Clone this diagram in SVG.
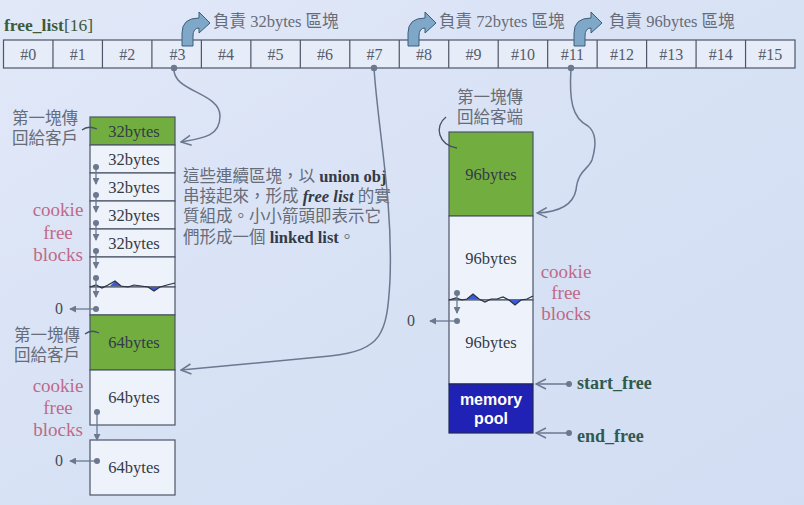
<svg xmlns="http://www.w3.org/2000/svg" width="804" height="505" viewBox="0 0 804 505">
<defs>
<linearGradient id="bg" x1="0" y1="0" x2="1" y2="1">
<stop offset="0" stop-color="#e1e8f8"/>
<stop offset="0.5" stop-color="#d8e2f5"/>
<stop offset="1" stop-color="#d2ddf3"/>
</linearGradient>
<marker id="open" viewBox="0 0 12 12" refX="11" refY="6" markerWidth="12" markerHeight="12" markerUnits="userSpaceOnUse" orient="auto">
<path d="M1,1 L11,6 L1,11" fill="none" stroke="#6b7890" stroke-width="1.5"/>
</marker>
<marker id="tri" viewBox="0 0 8 8" refX="7" refY="4" markerWidth="7" markerHeight="7" markerUnits="userSpaceOnUse" orient="auto">
<path d="M0,0 L8,4 L0,8 Z" fill="#6b7890"/>
</marker>
<path id="turn" d="M0,24 L0,11 Q0,-4 17,-4 L17,-10 L28,1 L17,11 L17,6 Q11,6 11,14 L11,24 Z"/>
</defs>
<style>
.t{font-family:"Liberation Serif","Noto Sans CJK TC",serif;}
.cell{fill:#e6edf9;stroke:#4d5566;stroke-width:1.2;}
.idx{font-family:"Liberation Serif",serif;font-size:16px;fill:#555b6b;text-anchor:middle;}
.blk{fill:#eef2fa;stroke:#4d5566;stroke-width:1.2;}
.grn{fill:#72ad40;stroke:#4d5566;stroke-width:1.2;}
.bt{font-family:"Liberation Serif",serif;font-size:16.5px;fill:#333a48;text-anchor:middle;}
.gray{font-family:"Liberation Serif","Noto Sans CJK TC",sans-serif;font-size:16.5px;fill:#666c78;}
.pink{font-family:"Liberation Serif",serif;font-size:19px;fill:#bf6a88;text-anchor:middle;}
.ptr{font-family:"Liberation Serif",serif;font-size:18px;font-weight:bold;fill:#2f5a50;}
.zero{font-family:"Liberation Serif",serif;font-size:16px;fill:#444a58;}
.con{fill:none;stroke:#6b7890;stroke-width:1.5;}
.sm{fill:none;stroke:#6b7890;stroke-width:1.3;}
.dot{fill:#6b7890;}
.icon{fill:#7fa8c8;stroke:#3e5d7a;stroke-width:1;}
.wave{fill:none;stroke:#2a3040;stroke-width:1.2;}
.wb{fill:#3a5ad8;}
.tail{fill:none;stroke:#445066;stroke-width:1.3;}
</style>
<rect width="804" height="505" fill="url(#bg)"/>

<g id="title">
<text x="4" y="31" class="t" font-size="17.5" fill="#3d5a3a"><tspan font-weight="bold">free_list</tspan>[16]</text>
</g>

<g id="free_list">
<rect x="3.5" y="40" width="791.5" height="28" class="cell"/>
<g stroke="#4d5566" stroke-width="1.2">
<line x1="52.97" y1="40" x2="52.97" y2="68"/><line x1="102.44" y1="40" x2="102.44" y2="68"/>
<line x1="151.91" y1="40" x2="151.91" y2="68"/><line x1="201.38" y1="40" x2="201.38" y2="68"/>
<line x1="250.85" y1="40" x2="250.85" y2="68"/><line x1="300.32" y1="40" x2="300.32" y2="68"/>
<line x1="349.79" y1="40" x2="349.79" y2="68"/><line x1="399.26" y1="40" x2="399.26" y2="68"/>
<line x1="448.73" y1="40" x2="448.73" y2="68"/><line x1="498.2" y1="40" x2="498.2" y2="68"/>
<line x1="547.67" y1="40" x2="547.67" y2="68"/><line x1="597.14" y1="40" x2="597.14" y2="68"/>
<line x1="646.61" y1="40" x2="646.61" y2="68"/><line x1="696.08" y1="40" x2="696.08" y2="68"/>
<line x1="745.55" y1="40" x2="745.55" y2="68"/>
</g>
<text class="idx" x="28.2" y="59.5">#0</text><text class="idx" x="77.7" y="59.5">#1</text>
<text class="idx" x="127.2" y="59.5">#2</text><text class="idx" x="177.6" y="59.5">#3</text>
<text class="idx" x="226.1" y="59.5">#4</text><text class="idx" x="275.6" y="59.5">#5</text>
<text class="idx" x="325.1" y="59.5">#6</text><text class="idx" x="374.5" y="59.5">#7</text>
<text class="idx" x="424" y="59.5">#8</text><text class="idx" x="473.5" y="59.5">#9</text>
<text class="idx" x="523" y="59.5">#10</text><text class="idx" x="572.4" y="59.5">#11</text>
<text class="idx" x="621.9" y="59.5">#12</text><text class="idx" x="671.3" y="59.5">#13</text>
<text class="idx" x="720.8" y="59.5">#14</text><text class="idx" x="770.3" y="59.5">#15</text>
</g>

<g id="label32">
<use href="#turn" x="182" y="22" class="icon"/>
<text x="213" y="27" class="gray">負責 32bytes 區塊</text>
</g>
<g id="label72">
<use href="#turn" x="408" y="22" class="icon"/>
<text x="439" y="27" class="gray">負責 72bytes 區塊</text>
</g>
<g id="label96">
<use href="#turn" x="574" y="22" class="icon"/>
<text x="609" y="27" class="gray">負責 96bytes 區塊</text>
</g>

<g id="chunk32">
<rect x="90" y="117" width="85" height="28" class="grn"/>
<rect x="90" y="145" width="85" height="28" class="blk"/>
<rect x="90" y="173" width="85" height="28" class="blk"/>
<rect x="90" y="201" width="85" height="28" class="blk"/>
<rect x="90" y="229" width="85" height="28" class="blk"/>
<rect x="90" y="257" width="85" height="30" class="blk"/>
<rect x="90" y="287" width="85" height="28" class="blk"/>
<text class="bt" x="134" y="137" fill="#2c3a20">32bytes</text>
<text class="bt" x="134" y="165">32bytes</text>
<text class="bt" x="134" y="193">32bytes</text>
<text class="bt" x="134" y="221">32bytes</text>
<text class="bt" x="134" y="249">32bytes</text>
<path class="wb" d="M110,286 L115,281 L121,286 Z M148,287 L154,291 L160,287 Z"/>
<polyline class="wave" points="90,287 96,285 102,288 108,285 115,281 121,286 128,287 134,285 141,286 148,287 154,291 160,287 167,285 175,283"/>
<g>
<circle class="dot" cx="96" cy="167" r="3"/><circle class="dot" cx="96" cy="195" r="3"/>
<circle class="dot" cx="96" cy="223" r="3"/><circle class="dot" cx="96" cy="251" r="3"/>
<circle class="dot" cx="96" cy="278" r="3"/><circle class="dot" cx="96" cy="309" r="3"/>
<line class="sm" x1="96" y1="167" x2="96" y2="184" marker-end="url(#tri)"/>
<line class="sm" x1="96" y1="195" x2="96" y2="212" marker-end="url(#tri)"/>
<line class="sm" x1="96" y1="223" x2="96" y2="240" marker-end="url(#tri)"/>
<line class="sm" x1="96" y1="251" x2="96" y2="268" marker-end="url(#tri)"/>
<line class="sm" x1="96" y1="278" x2="96" y2="297" marker-end="url(#tri)"/>
<line class="sm" x1="96" y1="309" x2="70" y2="309" marker-end="url(#tri)"/>
</g>
<text class="zero" x="55" y="314">0</text>
<text class="gray" x="12" y="124" font-size="16">第一塊傳</text>
<text class="gray" x="12" y="144" font-size="16">回給客戶</text>
<path class="tail" d="M82,130 Q88,125 97,129"/>
<text class="pink" x="58" y="216">cookie</text>
<text class="pink" x="58" y="239">free</text>
<text class="pink" x="58" y="261">blocks</text>
</g>

<g id="chunk64">
<rect x="90" y="315" width="85" height="55" class="grn"/>
<rect x="90" y="370" width="85" height="55" class="blk"/>
<rect x="90" y="440" width="85" height="55" class="blk"/>
<text class="bt" x="134" y="348" fill="#2c3a20">64bytes</text>
<text class="bt" x="134" y="403">64bytes</text>
<text class="bt" x="134" y="473">64bytes</text>
<circle class="dot" cx="97" cy="412" r="3"/>
<line class="sm" x1="97" y1="412" x2="97" y2="440" marker-end="url(#tri)"/>
<circle class="dot" cx="97" cy="461" r="3"/>
<line class="sm" x1="97" y1="461" x2="70" y2="461" marker-end="url(#tri)"/>
<text class="zero" x="55" y="466">0</text>
<text class="gray" x="14" y="341" font-size="16">第一塊傳</text>
<text class="gray" x="14" y="361" font-size="16">回給客戶</text>
<path class="tail" d="M85,334 Q91,329 99,333"/>
<text class="pink" x="58" y="392">cookie</text>
<text class="pink" x="58" y="414">free</text>
<text class="pink" x="58" y="436">blocks</text>
</g>

<g id="chunk96">
<rect x="449" y="132" width="84" height="84" class="grn"/>
<rect x="449" y="216" width="84" height="84" class="blk"/>
<rect x="449" y="300" width="84" height="84" class="blk"/>
<text class="bt" x="491" y="180" fill="#2c3a20">96bytes</text>
<text class="bt" x="491" y="264">96bytes</text>
<text class="bt" x="491" y="348">96bytes</text>
<path class="wb" d="M467,299 L473,294 L479,299 Z M509,300 L515,305 L521,300 Z"/>
<polyline class="wave" points="449,300 456,298 462,300 467,299 473,294 479,299 485,302 491,299 497,299 503,297 509,300 515,305 521,300 527,299 533,296"/>
<circle class="dot" cx="457" cy="293" r="3"/>
<line class="sm" x1="457" y1="293" x2="457" y2="313" marker-end="url(#tri)"/>
<circle class="dot" cx="457" cy="321" r="3"/>
<line class="sm" x1="457" y1="321" x2="430" y2="321" marker-end="url(#tri)"/>
<text class="zero" x="407" y="326">0</text>
<text class="gray" x="490" y="103" font-size="16" text-anchor="middle">第一塊傳</text>
<text class="gray" x="490" y="123" font-size="16" text-anchor="middle">回給客端</text>
<path class="tail" d="M446,117 C434,126 438,145 457,148"/>
<text class="pink" x="566" y="278">cookie</text>
<text class="pink" x="566" y="299">free</text>
<text class="pink" x="566" y="320">blocks</text>
</g>

<g id="memory_pool">
<rect x="449" y="384" width="84" height="49" fill="#1f22b4" stroke="#222a55" stroke-width="1.2"/>
<text x="491" y="405" font-family="Liberation Sans,sans-serif" font-weight="bold" font-size="16" fill="#ffffff" text-anchor="middle">memory</text>
<text x="491" y="424" font-family="Liberation Sans,sans-serif" font-weight="bold" font-size="16" fill="#ffffff" text-anchor="middle">pool</text>
</g>

<g id="note">
<text x="183" y="182" class="t" font-size="16.5" fill="#666c78">這些連續區塊，以 <tspan fill="#333a48" font-weight="bold">union obj</tspan></text>
<text x="183" y="202" class="t" font-size="16.5" fill="#666c78">串接起來，形成 <tspan fill="#333a48" font-weight="bold" font-style="italic">free list</tspan> 的實</text>
<text x="183" y="222" class="t" font-size="16.5" fill="#666c78">質組成。小小箭頭即表示它</text>
<text x="183" y="243" class="t" font-size="16.5" fill="#666c78">們形成一個 <tspan fill="#333a48" font-weight="bold">linked list</tspan>。</text>
</g>

<g id="pointers">
<text x="577" y="389" class="ptr">start_free</text>
<text x="577" y="442" class="ptr">end_free</text>
</g>

<g id="connectors">
<circle class="dot" cx="174" cy="68" r="3.2"/>
<circle class="dot" cx="374" cy="68" r="3.2"/>
<circle class="dot" cx="571" cy="68" r="3.2"/>
<path class="con" d="M174,68 C172,92 220,92 220,116 C220,136 204,138 181,142" marker-end="url(#open)"/>
<path class="con" d="M374,68 C378,130 393,200 390,280 C387,335 382,350 330,356 C270,362 220,366 181,370" marker-end="url(#open)"/>
<path class="con" d="M571,68 C569,100 572,118 588,126 C598,134 595,150 592,160 C588,170 578,170 576,190 C573,205 560,212 537,213" marker-end="url(#open)"/>
<circle class="dot" cx="569" cy="384" r="3"/>
<line class="con" x1="569" y1="384" x2="536" y2="384" marker-end="url(#open)"/>
<circle class="dot" cx="569" cy="433" r="3"/>
<line class="con" x1="569" y1="433" x2="536" y2="433" marker-end="url(#open)"/>
</g>
</svg>
